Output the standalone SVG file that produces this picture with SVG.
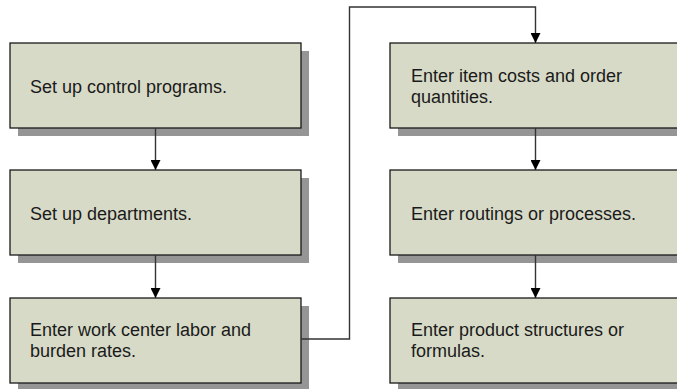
<svg xmlns="http://www.w3.org/2000/svg" width="677" height="389" viewBox="0 0 677 389">
<style>
.sh{fill:#959595;}
.bx{fill:#d8dac8;stroke:#1a1a1a;stroke-width:1.3;}
.t{font-family:"Liberation Sans",Arial,sans-serif;font-size:18px;fill:#1a1a1a;}
.c{fill:none;stroke:#333;stroke-width:1.4;}
</style>
<defs>
<marker id="ah" markerWidth="10" markerHeight="10" refX="10" refY="5" orient="auto" markerUnits="userSpaceOnUse">
<path d="M0,0 L10,5 L0,10 Z" fill="#000"/>
</marker>
</defs>
<rect width="677" height="389" fill="#fff"/>
<g id="n1">
<rect class="sh" x="18" y="51" width="291" height="85"/>
<rect class="bx" x="10" y="43" width="291" height="85"/>
<text class="t" x="30" y="92.5">Set up control programs.</text>
</g>
<g id="n2">
<rect class="sh" x="18" y="178" width="291" height="85"/>
<rect class="bx" x="10" y="170" width="291" height="85"/>
<text class="t" x="30" y="219.5">Set up departments.</text>
</g>
<g id="n3">
<rect class="sh" x="18" y="306" width="291" height="85"/>
<rect class="bx" x="10" y="298" width="291" height="85"/>
<text class="t" x="30" y="336">Enter work center labor and</text>
<text class="t" x="30" y="357">burden rates.</text>
</g>
<g id="n4">
<rect class="sh" x="398" y="51" width="291" height="85"/>
<rect class="bx" x="390" y="43" width="291" height="85"/>
<text class="t" x="411" y="82">Enter item costs and order</text>
<text class="t" x="411" y="103">quantities.</text>
</g>
<g id="n5">
<rect class="sh" x="398" y="178" width="291" height="85"/>
<rect class="bx" x="390" y="170" width="291" height="85"/>
<text class="t" x="411" y="219.5">Enter routings or processes.</text>
</g>
<g id="n6">
<rect class="sh" x="398" y="306" width="291" height="85"/>
<rect class="bx" x="390" y="298" width="291" height="85"/>
<text class="t" x="411" y="336">Enter product structures or</text>
<text class="t" x="411" y="357">formulas.</text>
</g>
<g id="connectors">
<path class="c" d="M155.5,128 V170" marker-end="url(#ah)"/>
<path class="c" d="M155.5,255 V298" marker-end="url(#ah)"/>
<path class="c" d="M301,339 H349.5 V7 H535.5 V43" marker-end="url(#ah)"/>
<path class="c" d="M535.5,128 V170" marker-end="url(#ah)"/>
<path class="c" d="M535.5,255 V298" marker-end="url(#ah)"/>
</g>
</svg>
